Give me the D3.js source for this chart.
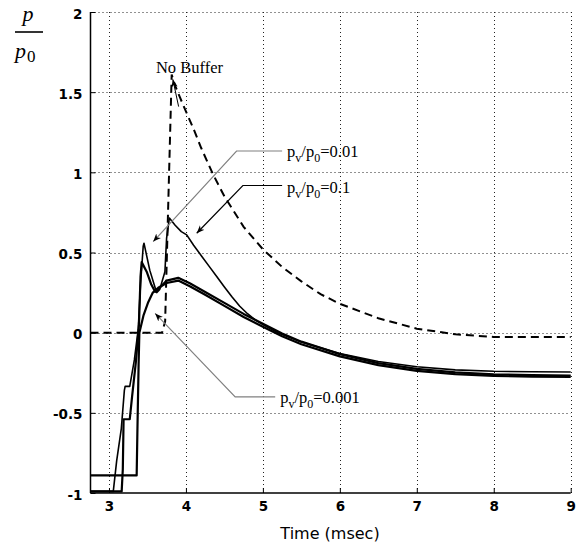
<!DOCTYPE html>
<html>
<head>
<meta charset="utf-8">
<script src="https://cdn.jsdelivr.net/npm/d3@7"></script>
<style>
  body { margin: 0; background: #fff; }
  svg { display: block; }
</style>
</head>
<body>
<div id="chart"></div>
<script>
// Tick values
const xTicks = [3, 4, 5, 6, 7, 8, 9]
const yTicks = [-1, -0.5, 0, 0.5, 1, 1.5, 2]

// No buffer (dashed)
const tNoBuf = [2.76, 3.69, 3.73, 3.815, 3.86, 3.92, 4.0, 4.1, 4.2, 4.35, 4.5, 4.75, 5.0, 5.25, 5.5, 5.75, 6.0, 6.5, 7.0, 7.5, 8.0, 8.5, 9.0]
const pNoBuf = [0, 0, 0.07, 1.61, 1.54, 1.47, 1.38, 1.27, 1.15, 0.99, 0.85, 0.66, 0.52, 0.41, 0.32, 0.24, 0.18, 0.09, 0.025, -0.01, -0.027, -0.027, -0.027]

// pv/p0 = 0.1
const t01 = [2.76, 3.056, 3.10, 3.16, 3.20, 3.21, 3.27, 3.33, 3.38, 3.41, 3.445, 3.455, 3.53, 3.60, 3.62, 3.66, 3.727, 3.749, 3.785, 3.86, 3.94, 4.01, 4.1, 4.2, 4.3, 4.4, 4.5, 4.6, 4.7, 4.8, 4.9, 5.0, 5.2, 5.5, 6.0, 6.5, 7.0, 7.5, 8.0, 8.5, 9.0]
const p01 = [-0.99, -0.99, -0.80, -0.60, -0.36, -0.335, -0.335, -0.17, 0.02, 0.30, 0.54, 0.558, 0.39, 0.28, 0.25, 0.27, 0.38, 0.59, 0.715, 0.67, 0.63, 0.61, 0.545, 0.48, 0.415, 0.35, 0.285, 0.222, 0.165, 0.118, 0.08, 0.05, -0.002, -0.058, -0.13, -0.18, -0.213, -0.232, -0.241, -0.244, -0.245]

// pv/p0 = 0.01
const t001 = [2.76, 3.165, 3.18, 3.19, 3.27, 3.30, 3.35, 3.39, 3.41, 3.425, 3.49, 3.55, 3.60, 3.65, 3.75, 3.9, 4.05, 4.25, 4.5, 4.75, 5.0, 5.25, 5.5, 6.0, 6.5, 7.0, 7.5, 8.0, 8.5, 9.0]
const p001 = [-0.99, -0.99, -0.85, -0.54, -0.54, -0.40, -0.18, 0.05, 0.35, 0.44, 0.38, 0.30, 0.255, 0.275, 0.325, 0.342, 0.308, 0.254, 0.186, 0.117, 0.056, -0.005, -0.056, -0.134, -0.19, -0.226, -0.248, -0.26, -0.265, -0.267]

// pv/p0 = 0.001
const t0001 = [2.76, 3.36, 3.37, 3.385, 3.395, 3.45, 3.51, 3.57, 3.64, 3.75, 3.9, 4.05, 4.25, 4.5, 4.75, 5.0, 5.25, 5.5, 6.0, 6.5, 7.0, 7.5, 8.0, 8.5, 9.0]
const p0001 = [-0.89, -0.89, -0.60, -0.20, 0.0, 0.11, 0.19, 0.25, 0.28, 0.31, 0.325, 0.29, 0.236, 0.167, 0.098, 0.037, -0.022, -0.072, -0.148, -0.202, -0.238, -0.258, -0.27, -0.274, -0.276]

const width = 576
const height = 549

const xScale = d3.scaleLinear().domain([2.76, 9]).range([90.5, 570.7])
const yScale = d3.scaleLinear().domain([-1, 2]).range([493, 12])

const svg = d3.select("#chart")
  .append("svg")
  .attr("width", width)
  .attr("height", height)

// arrow head
svg.append("defs").append("marker")
  .attr("id", "arrow")
  .attr("viewBox", "0 0 10 10")
  .attr("refX", 10).attr("refY", 5)
  .attr("markerWidth", 8).attr("markerHeight", 8)
  .attr("markerUnits", "userSpaceOnUse")
  .attr("orient", "auto")
  .append("path")
  .attr("d", "M0,1 L10,5 L0,9 L3,5 Z")
  .attr("fill", "#000")

// Grid
const grid = svg.append("g").attr("stroke", "#222").attr("stroke-width", 1).attr("stroke-dasharray", "1,3")
grid.selectAll(".gx").data(xTicks).enter().append("line")
  .attr("x1", d => Math.round(xScale(d)) + 0.5).attr("x2", d => Math.round(xScale(d)) + 0.5)
  .attr("y1", yScale(2)).attr("y2", yScale(-1))
grid.selectAll(".gy").data(yTicks.filter(d => d > -1)).enter().append("line")
  .attr("y1", d => Math.round(yScale(d)) + 0.5).attr("y2", d => Math.round(yScale(d)) + 0.5)
  .attr("x1", xScale(2.76)).attr("x2", xScale(9))

// Axes
const xAxis = d3.axisBottom(xScale).tickValues(xTicks).tickSize(-5).tickPadding(8).tickFormat(d => String(d))
const yAxis = d3.axisLeft(yScale).tickValues(yTicks).tickSize(-5).tickPadding(8).tickFormat(d => String(d))

const gx = svg.append("g").attr("transform", `translate(0,${yScale(-1)})`).call(xAxis)
const gy = svg.append("g").attr("transform", `translate(${xScale(2.76)},0)`).call(yAxis)
gx.select(".domain").attr("d", `M${xScale(2.76)},0H${xScale(9)}`)
gy.select(".domain").attr("d", `M0,${yScale(2)}V${yScale(-1)}`)
;[gx, gy].forEach(g => {
  g.selectAll(".domain").attr("stroke", "#000").attr("stroke-width", 1.5)
  g.selectAll(".tick line").attr("stroke", "#000")
  g.selectAll(".tick text")
    .attr("font-family", "DejaVu Sans, sans-serif")
    .attr("font-weight", "bold")
    .attr("font-size", 13.5)
    .attr("fill", "#000")
})
gy.selectAll(".tick text").attr("dy", "0.45em")

// Axis labels
svg.append("text")
  .attr("x", 330).attr("y", 539)
  .attr("text-anchor", "middle")
  .attr("font-family", "DejaVu Sans, sans-serif")
  .attr("font-size", 16)
  .text("Time (msec)")

const ylab = svg.append("g").attr("font-family", "Liberation Serif, serif")
ylab.append("text").attr("x", 28).attr("y", 21).attr("text-anchor", "middle")
  .attr("font-style", "italic").attr("font-size", 22).text("p")
ylab.append("line").attr("x1", 15).attr("x2", 43).attr("y1", 32).attr("y2", 32)
  .attr("stroke", "#000").attr("stroke-width", 1.6)
const p0 = ylab.append("text").attr("x", 15).attr("y", 58)
p0.append("tspan").attr("font-style", "italic").attr("font-size", 22).text("p")
p0.append("tspan").attr("font-size", 17).attr("dy", 4).attr("dx", 1).text("0")

// Curves
const line = d3.line().x(d => xScale(d[0])).y(d => yScale(d[1]))
const zip = (t, p) => t.map((v, i) => [v, p[i]])

svg.append("path").datum(zip(tNoBuf, pNoBuf)).attr("d", line)
  .attr("fill", "none").attr("stroke", "#000").attr("stroke-width", 2)
  .attr("stroke-dasharray", "8,5")

svg.append("path").datum(zip(t0001, p0001)).attr("d", line)
  .attr("fill", "none").attr("stroke", "#000").attr("stroke-width", 2.2).attr("stroke-linejoin", "round")
svg.append("path").datum(zip(t001, p001)).attr("d", line)
  .attr("fill", "none").attr("stroke", "#000").attr("stroke-width", 2.2).attr("stroke-linejoin", "round")
svg.append("path").datum(zip(t01, p01)).attr("d", line)
  .attr("fill", "none").attr("stroke", "#000").attr("stroke-width", 1.6).attr("stroke-linejoin", "round")

// Annotations
const serif = "Liberation Serif, Times New Roman, serif"
svg.append("text").attr("x", xScale(3.61)).attr("y", yScale(1.62))
  .attr("font-family", serif).attr("font-size", 16.5).text("No Buffer")
svg.append("line")
  .attr("x1", xScale(3.905)).attr("y1", yScale(1.41))
  .attr("x2", xScale(3.83)).attr("y2", yScale(1.58))
  .attr("stroke", "#000").attr("stroke-width", 1).attr("marker-end", "url(#arrow)")

const notes = [
  { label: "0.01", tip: [3.575, 0.568], elbow: [4.658, 1.133], end: [5.25, 1.133], base: 1.096, color: "#808080" },
  { label: "0.1", tip: [4.14, 0.62], elbow: [4.74, 0.918], end: [5.25, 0.918], base: 0.871, color: "#000" },
  { label: "0.001", tip: [3.6, 0.12], elbow: [4.64, -0.40], end: [5.16, -0.40], base: -0.437, color: "#808080" }
]
notes.forEach(n => {
  svg.append("path")
    .attr("d", `M${xScale(n.end[0])},${yScale(n.end[1])}H${xScale(n.elbow[0])}L${xScale(n.tip[0])},${yScale(n.tip[1])}`)
    .attr("fill", "none").attr("stroke", n.color).attr("stroke-width", 1.2)
    .attr("marker-end", "url(#arrow)")
  const t = svg.append("text").attr("x", xScale(n.end[0]) + 5).attr("y", yScale(n.base))
    .attr("font-family", serif).attr("font-size", 16.5)
  t.append("tspan").text("p")
  t.append("tspan").attr("dy", 5).attr("font-size", 12).text("v")
  t.append("tspan").attr("dy", -5).text("/p")
  t.append("tspan").attr("dy", 5).attr("font-size", 12).text("0")
  t.append("tspan").attr("dy", -5).text("=" + n.label)
})
</script>
</body>
</html>
